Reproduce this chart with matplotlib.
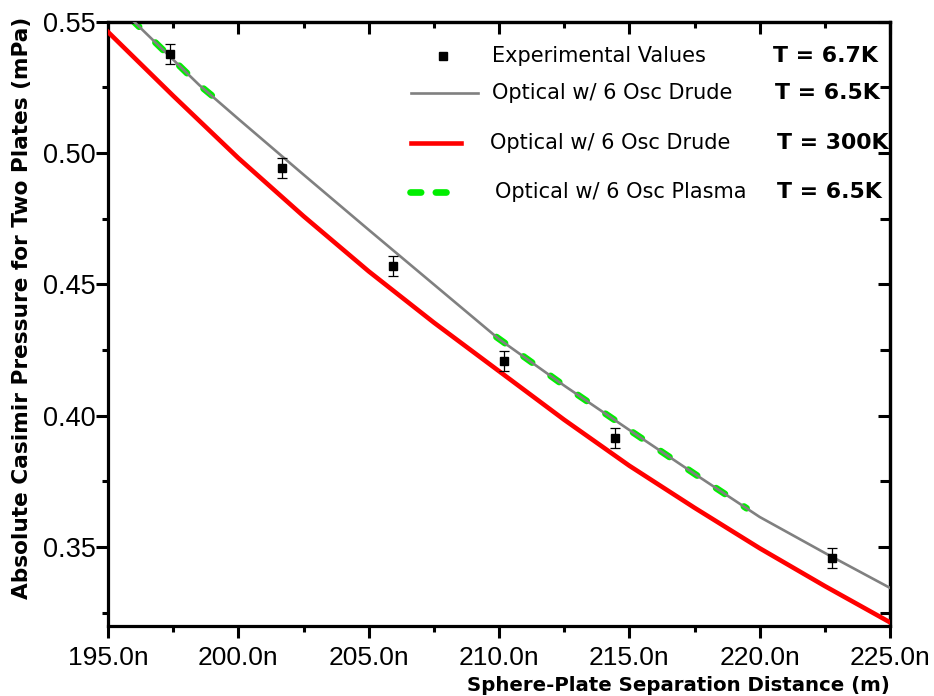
import numpy as np
import matplotlib
matplotlib.use("Agg")
import matplotlib.pyplot as plt
from matplotlib.ticker import MultipleLocator, FuncFormatter
from matplotlib.lines import Line2D

# ---------------- data ----------------
exp_x = [197.38, 201.66, 205.92, 210.19, 214.46, 222.78]          # nm
exp_y = [0.5376, 0.4945, 0.4570, 0.4209, 0.3916, 0.3459]          # mPa
exp_err = [0.0038, 0.0038, 0.0038, 0.0038, 0.0038, 0.0038]

drude65_x = [195.0, 196.0, 198.5, 200.0, 202.5, 205.0, 207.5, 210.0, 212.5, 215.0, 217.7, 220.0, 222.5, 225.0]
drude65_y = [0.5587, 0.5500, 0.5259, 0.5130, 0.4918, 0.4708, 0.4500, 0.4292, 0.4115, 0.3946, 0.3766, 0.3615, 0.3478, 0.3345]

drude300_x = [195.0, 197.5, 200.0, 202.5, 205.0, 207.5, 210.0, 212.5, 215.0, 217.5, 220.0, 222.5, 225.0]
drude300_y = [0.5461, 0.5218, 0.4981, 0.4760, 0.4550, 0.4355, 0.4170, 0.3985, 0.3810, 0.3650, 0.3496, 0.3352, 0.3214]

plasma_x = [195.9, 198.5, 199.4, np.nan, 209.9, 212.5, 215.0, 217.7, 219.5]
plasma_y = [0.5509, 0.5259, 0.5185, np.nan, 0.4300, 0.4115, 0.3946, 0.3766, 0.3648]

xlim = (195.0, 225.0)
ylim = (0.32, 0.55)

legend_labels = ["Experimental Values", "Optical w/ 6 Osc Drude",
                 "Optical w/ 6 Osc Drude", "Optical w/ 6 Osc Plasma"]
legend_temps = ["T = 6.7K", "T = 6.5K", "T = 300K", "T = 6.5K"]

xlabel = "Sphere-Plate Separation Distance (m)"
ylabel = "Absolute Casimir Pressure for Two Plates (mPa)"

# ---------------- figure ----------------
W, H = 934, 696
fig = plt.figure(figsize=(W / 100, H / 100), dpi=100)
ax = fig.add_axes([108 / W, 1 - 626 / H, (890 - 108) / W, (626 - 21.7) / H])

def fx(px):
    return px / W

def fy(py):
    return 1 - py / H

green = "#00ee00"
gdash = (0, (1.6, 3.4))
ax.plot(plasma_x, plasma_y, color=green, lw=4.8, linestyle=gdash,
        dash_capstyle="round", zorder=2)
ax.plot(drude65_x, drude65_y, color="#808080", lw=1.9, zorder=3)
ax.plot(drude300_x, drude300_y, color="#ff0000", lw=3.3, zorder=3)
ax.errorbar(exp_x, exp_y, yerr=exp_err, fmt="s", color="black", ms=5.2,
            ecolor="black", elinewidth=0.9, capsize=3.8, capthick=0.9, zorder=4)

ax.set_xlim(*xlim)
ax.set_ylim(*ylim)

for s in ax.spines.values():
    s.set_linewidth(2.3)

ax.xaxis.set_major_locator(MultipleLocator(5))
ax.xaxis.set_minor_locator(MultipleLocator(2.5))
ax.yaxis.set_major_locator(MultipleLocator(0.05))
ax.yaxis.set_minor_locator(MultipleLocator(0.025))
ax.xaxis.set_major_formatter(FuncFormatter(lambda v, p: f"{v:.1f}n"))
ax.yaxis.set_major_formatter(FuncFormatter(lambda v, p: f"{v:.2f}"))

ax.tick_params(axis="both", which="major", direction="out", length=8.5, width=2.2)
ax.tick_params(axis="both", which="minor", direction="out", length=4.5, width=2.2)
ax.tick_params(axis="x", which="major", labelsize=19, pad=6)
ax.tick_params(axis="y", which="major", labelsize=19.5, pad=0.5)
for lab in ax.get_xticklabels() + ax.get_yticklabels():
    lab.set_family("Liberation Sans")

# top and right ticks pointing inward
secx = ax.secondary_xaxis("top")
secx.xaxis.set_major_locator(MultipleLocator(5))
secx.xaxis.set_minor_locator(MultipleLocator(2.5))
secx.tick_params(axis="x", which="major", direction="in", length=8.5, width=2.2, labeltop=False)
secx.tick_params(axis="x", which="minor", direction="in", length=4, width=2.2)
secx.spines["top"].set_linewidth(2.3)
secy = ax.secondary_yaxis("right")
secy.yaxis.set_major_locator(MultipleLocator(0.05))
secy.yaxis.set_minor_locator(MultipleLocator(0.025))
secy.tick_params(axis="y", which="major", direction="in", length=8.5, width=2.2, labelright=False)
secy.tick_params(axis="y", which="minor", direction="in", length=7, width=2.2)
secy.spines["right"].set_linewidth(2.3)

# axis titles
fig.text(fx(22), fy(308), ylabel, rotation=90, ha="center", va="center",
         fontsize=15.6, fontweight="bold", family="DejaVu Sans")
fig.text(fx(678), fy(676), xlabel, ha="center", va="top",
         fontsize=14.2, fontweight="bold", family="DejaVu Sans")

# manual legend
rows_y = [56, 93, 143, 192]
text_x = [492, 492, 490, 495]
temp_x = [773, 775, 777, 777]
fig.add_artist(Line2D([fx(443)], [fy(rows_y[0])], marker="s", ms=5.2, color="black",
                      linestyle="none", transform=fig.transFigure))
fig.add_artist(Line2D([fx(411), fx(478)], [fy(rows_y[1])] * 2, color="#808080", lw=1.9,
                      transform=fig.transFigure))
fig.add_artist(Line2D([fx(411), fx(461)], [fy(rows_y[2])] * 2, color="#ff0000", lw=3.3,
                      transform=fig.transFigure))
fig.add_artist(Line2D([fx(410), fx(447)], [fy(rows_y[3])] * 2, color=green, lw=4.8,
                      linestyle=(0, (1.6, 2.2)), dash_capstyle="round",
                      transform=fig.transFigure))
for lab, t, ry, tx, tt in zip(legend_labels, legend_temps, rows_y, text_x, temp_x):
    fig.text(fx(tx), fy(ry), lab, ha="left", va="center", fontsize=15,
             family="DejaVu Sans")
    fig.text(fx(tt), fy(ry), t, ha="left", va="center", fontsize=15.8,
             fontweight="bold", family="DejaVu Sans")

fig.savefig("out.png", dpi=100)
